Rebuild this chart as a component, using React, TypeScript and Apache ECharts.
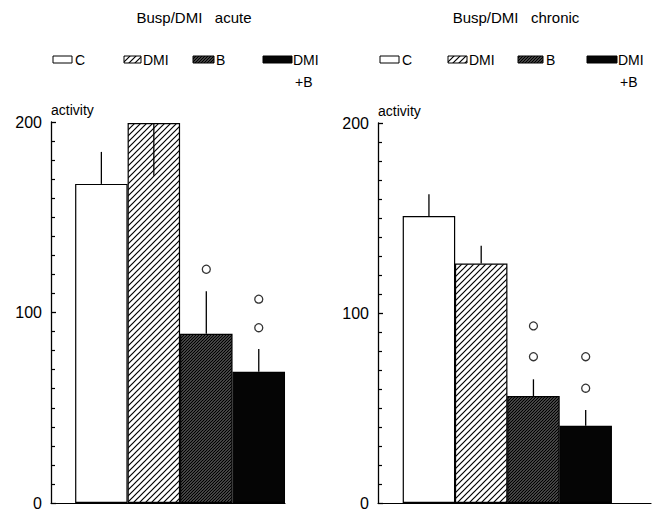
import React, { useEffect, useRef } from 'react';
import * as echarts from 'echarts';

const groups = ['C', 'DMI', 'B', 'DMI+B'];
const titles = ['Busp/DMI   acute', 'Busp/DMI   chronic'];
const acuteValues = [167.5, 199.5, 88.8, 68.9];
const acuteErrEnds = [184.3, 171.8, 111.2, 80.9];
const acuteMarks = [[2, 122.7], [3, 107], [3, 92]];
const chronicValues = [151, 126, 56.3, 40.6];
const chronicErrEnds = [162.5, 135.4, 65.1, 49];
const chronicMarks = [[2, 93.2], [2, 77], [3, 77], [3, 60.4]];
const yTickLabels = [0, 100, 200];

const FONT = '"Liberation Sans", Arial, Helvetica, sans-serif';

function makeHatch(bg: string, fg: string, s: number, lw: number) {
  const c = document.createElement('canvas');
  c.width = s;
  c.height = s;
  const ctx = c.getContext('2d')!;
  ctx.fillStyle = bg;
  ctx.fillRect(0, 0, s, s);
  ctx.strokeStyle = fg;
  ctx.lineWidth = lw;
  ctx.beginPath();
  ctx.moveTo(0, s);
  ctx.lineTo(s, 0);
  ctx.moveTo(-s / 2, s / 2);
  ctx.lineTo(s / 2, -s / 2);
  ctx.moveTo(s / 2, s * 1.5);
  ctx.lineTo(s * 1.5, s / 2);
  ctx.stroke();
  return { image: c, repeat: 'repeat' as const };
}

export default function App() {
  const ref = useRef<HTMLDivElement>(null);
  useEffect(() => {
    if (!ref.current) return;
    const chart = echarts.init(ref.current, undefined, { renderer: 'svg' });
    const fills: any[] = [
      '#ffffff',
      makeHatch('#ffffff', '#000000', 6, 1.2),
      makeHatch('#7a7a7a', '#000000', 3, 1.3),
      '#050505',
    ];

    const panels = [
      { values: acuteValues, errs: acuteErrEnds, marks: acuteMarks, left: 51, top: 122, width: 234, height: 383, xmin: -0.96, xmax: 3.5, titleX: 194 },
      { values: chronicValues, errs: chronicErrEnds, marks: chronicMarks, left: 378, top: 123, width: 273, height: 384, xmin: -0.975, xmax: 4.25, titleX: 516 },
    ];

    const legendLayouts = [
      [
        { x: 53, w: 19, tx: 75 },
        { x: 124, w: 17, tx: 143 },
        { x: 193, w: 21, tx: 216 },
        { x: 263, w: 29, tx: 293 },
      ],
      [
        { x: 380, w: 19, tx: 402 },
        { x: 448, w: 19, tx: 469 },
        { x: 518, w: 25, tx: 546 },
        { x: 587, w: 30, tx: 618 },
      ],
    ];

    const graphic: any[] = [];
    panels.forEach((p, pi) => {
      graphic.push({
        type: 'text',
        x: p.titleX,
        y: 17,
        style: { text: titles[pi], fill: '#000', font: `15px ${FONT}`, align: 'center', verticalAlign: 'middle' },
      });
    });
    legendLayouts.forEach((lay) => {
      lay.forEach((it, i) => {
        graphic.push({
          type: 'rect',
          shape: { x: it.x, y: 56, width: it.w, height: 7 },
          style: { fill: fills[i], stroke: '#000', lineWidth: 1 },
        });
        const parts = groups[i].split('+');
        graphic.push({
          type: 'text',
          x: it.tx,
          y: 60,
          style: { text: parts[0], fill: '#000', font: `14px ${FONT}`, verticalAlign: 'middle' },
        });
        if (parts.length > 1) {
          graphic.push({
            type: 'text',
            x: it.tx + 2,
            y: 82,
            style: { text: '+' + parts[1], fill: '#000', font: `14px ${FONT}`, verticalAlign: 'middle' },
          });
        }
      });
    });

    const option: any = {
      animation: false,
      backgroundColor: '#fff',
      grid: panels.map((p) => ({ left: p.left, top: p.top, width: p.width, height: p.height, containLabel: false })),
      xAxis: panels.map((p, i) => ({
        type: 'value',
        gridIndex: i,
        min: p.xmin,
        max: p.xmax,
        axisLine: { show: true, onZero: false, lineStyle: { color: '#000', width: 1.2 } },
        axisTick: { show: false },
        axisLabel: { show: false },
        splitLine: { show: false },
      })),
      yAxis: panels.map((p, i) => ({
        type: 'value',
        gridIndex: i,
        min: yTickLabels[0],
        max: yTickLabels[yTickLabels.length - 1],
        interval: yTickLabels[1] - yTickLabels[0],
        name: 'activity',
        nameLocation: 'end',
        nameGap: 5,
        nameTextStyle: { align: 'left', color: '#000', fontSize: 14, fontFamily: FONT },
        axisLine: { show: true, onZero: false, lineStyle: { color: '#000', width: 1.3 } },
        axisTick: { show: true, inside: true, length: 5, lineStyle: { color: '#000', width: 1.3 } },
        minorTick: { show: true, splitNumber: 10, length: 4, lineStyle: { color: '#000', width: 1.2 } },
        axisLabel: { color: '#000', fontSize: 16, fontFamily: FONT, margin: 9 },
        splitLine: { show: false },
      })),
      graphic,
      series: panels.flatMap((p, i) => [
        {
          type: 'bar',
          xAxisIndex: i,
          yAxisIndex: i,
          barWidth: 52.5,
          data: p.values.map((v, k) => ({
            value: [k, v],
            itemStyle: { color: fills[k], borderColor: '#000', borderWidth: 1.2 },
          })),
          z: 2,
        },
        {
          type: 'custom',
          xAxisIndex: i,
          yAxisIndex: i,
          data: p.values.map((v, k) => [k, v, p.errs[k]]),
          encode: { x: 0, y: [1, 2] },
          renderItem: (_params: any, api: any) => {
            const x = api.value(0);
            const a = api.coord([x, api.value(1)]);
            const b = api.coord([x, api.value(2)]);
            return {
              type: 'line',
              shape: { x1: a[0], y1: a[1], x2: b[0], y2: b[1] },
              style: { stroke: '#000', lineWidth: 1.3 },
            };
          },
          z: 3,
        },
        {
          type: 'scatter',
          xAxisIndex: i,
          yAxisIndex: i,
          symbol: 'circle',
          symbolSize: 8,
          itemStyle: { color: '#fff', borderColor: '#000', borderWidth: 1.3 },
          data: p.marks,
          z: 4,
        },
      ]),
    };
    chart.setOption(option);
    return () => chart.dispose();
  }, []);
  return <div ref={ref} style={{ position: 'fixed', left: 0, top: 0, width: 655, height: 511 }} />;
}
